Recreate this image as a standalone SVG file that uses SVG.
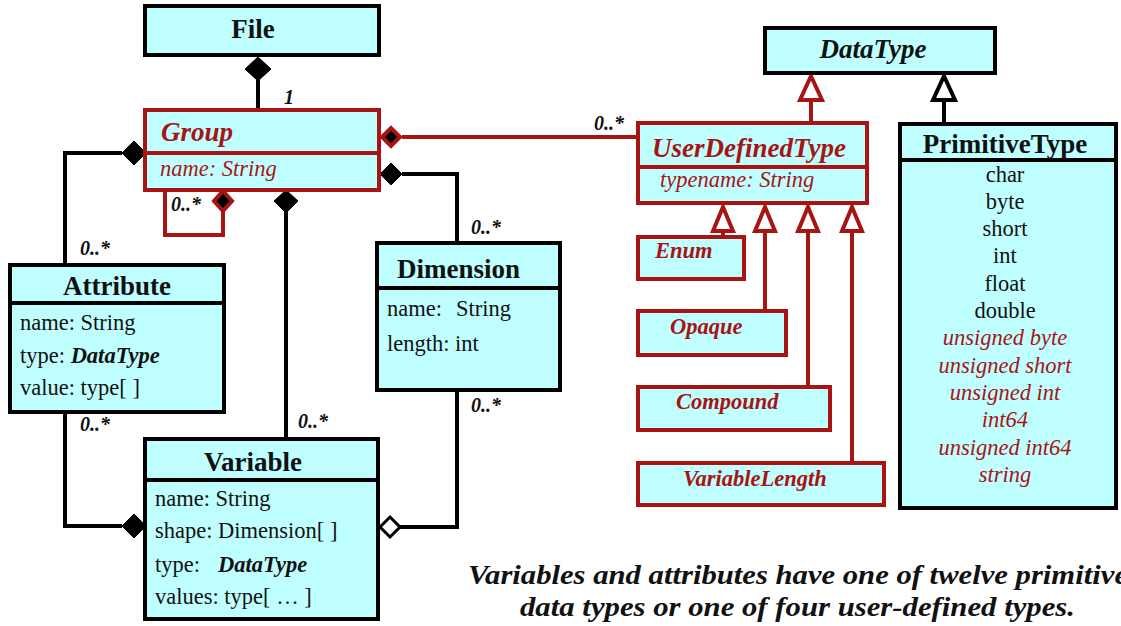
<svg xmlns="http://www.w3.org/2000/svg" width="1121" height="626" viewBox="0 0 1121 626">
<style>
.box{fill:#c0ffff;stroke:#000;stroke-width:4}
.rbox{fill:#c0ffff;stroke:#a81414;stroke-width:4}
.ln{fill:none;stroke:#000;stroke-width:4}
.rln{fill:none;stroke:#a81414;stroke-width:4}
text{font-family:"Liberation Serif","Times New Roman",Tinos,"DejaVu Serif",serif}
.t{fill:#111}
.title{font-weight:bold;font-size:27px;fill:#111}
.rtitle{font-weight:bold;font-style:italic;font-size:27px;fill:#a81414}
.rsub{font-weight:bold;font-style:italic;font-size:22.5px;fill:#a81414}
.attr{font-size:22.5px;fill:#111}
.rattr{font-style:italic;font-size:22.5px;fill:#a81414}
.bi{font-weight:bold;font-style:italic}
.mult{font-weight:bold;font-style:italic;font-size:20px;fill:#111}
.dia{fill:#000;stroke:#000;stroke-width:1}
.rdia{fill:#000;stroke:#a81414;stroke-width:4}
.odia{fill:#fff;stroke:#000;stroke-width:3}
.tri{fill:#fff;stroke:#000;stroke-width:4}
.rtri{fill:#fff;stroke:#a81414;stroke-width:4}
.cap{font-weight:bold;font-style:italic;font-size:28px;fill:#111}
</style>
<rect width="1121" height="626" fill="#fff"/>

<g id="connectors">
  <line class="ln" x1="258" y1="80" x2="258" y2="110"/>
  <polygon class="dia" points="258,57 271,69 258,81 245,69"/>
  <polyline class="rln" points="165,190 165,235 223,235 223,211"/>
  <polygon class="rdia" points="223,191 232,201 223,211 214,201"/>
  <polyline class="ln" points="122,153 65,153 65,265"/>
  <polygon class="dia" points="146,153 134,165 122,153 134,141"/>
  <line class="ln" x1="286" y1="212" x2="286" y2="439"/>
  <polygon class="dia" points="286,190 298,201 286,213 274,201"/>
  <polyline class="ln" points="402,174 457,174 457,243"/>
  <polygon class="dia" points="380,174 391,163 402,174 391,185"/>
  <line class="rln" x1="402" y1="137" x2="638" y2="137"/>
  <polygon class="rdia" points="382,137 391,128 400,137 391,146"/>
  <polyline class="ln" points="65,412 65,526 122,526"/>
  <polygon class="dia" points="146,526 134,538 122,526 134,514"/>
  <polyline class="ln" points="400,527 457,527 457,390"/>
  <polygon class="odia" points="380,527 390,517 400,527 390,537"/>
  <line class="rln" x1="811" y1="100" x2="811" y2="123"/>
  <polygon class="rtri" points="811,76 822,100 800,100"/>
  <line class="ln" x1="944" y1="100" x2="944" y2="123"/>
  <polygon class="tri" points="944,76 955,100 933,100"/>
  <line class="rln" x1="723" y1="231" x2="723" y2="236"/>
  <polygon class="rtri" points="723,207 733,231 713,231"/>
  <line class="rln" x1="765" y1="231" x2="765" y2="311"/>
  <polygon class="rtri" points="765,207 775,231 755,231"/>
  <line class="rln" x1="808" y1="231" x2="808" y2="387"/>
  <polygon class="rtri" points="808,207 818,231 798,231"/>
  <line class="rln" x1="852" y1="231" x2="852" y2="463"/>
  <polygon class="rtri" points="852,207 862,231 842,231"/>
  <text class="mult" x="284" y="104">1</text>
  <text class="mult" x="171" y="211">0..*</text>
  <text class="mult" x="80" y="255">0..*</text>
  <text class="mult" x="471" y="234">0..*</text>
  <text class="mult" x="594" y="130">0..*</text>
  <text class="mult" x="80" y="431">0..*</text>
  <text class="mult" x="298" y="428">0..*</text>
  <text class="mult" x="471" y="412">0..*</text>
</g>

<g id="File">
  <rect class="box" x="145" y="6" width="234" height="49"/>
  <text class="title" x="253" y="38" text-anchor="middle">File</text>
</g>

<g id="Group">
  <rect class="rbox" x="145" y="110" width="234" height="80"/>
  <line class="rln" x1="145" y1="153" x2="379" y2="153"/>
  <text class="rtitle" x="161" y="141">Group</text>
  <text class="rattr" x="160" y="176">name: String</text>
</g>

<g id="Attribute">
  <rect class="box" x="10" y="265" width="214" height="147"/>
  <line class="ln" x1="10" y1="303" x2="224" y2="303"/>
  <text class="title" x="117" y="295" text-anchor="middle">Attribute</text>
  <text class="attr" x="20" y="330">name: String</text>
  <text class="attr" x="20" y="363">type: <tspan class="bi">DataType</tspan></text>
  <text class="attr" x="20" y="395">value: type[ ]</text>
</g>

<g id="Dimension">
  <rect class="box" x="377" y="243" width="183" height="147"/>
  <line class="ln" x1="377" y1="288" x2="560" y2="288"/>
  <text class="title" x="397" y="278">Dimension</text>
  <text class="attr" x="387" y="316">name:<tspan x="456">String</tspan></text>
  <text class="attr" x="387" y="351">length: int</text>
</g>

<g id="Variable">
  <rect class="box" x="145" y="439" width="233" height="180"/>
  <line class="ln" x1="145" y1="480" x2="378" y2="480"/>
  <text class="title" x="253" y="471" text-anchor="middle">Variable</text>
  <text class="attr" x="155" y="506">name: String</text>
  <text class="attr" x="155" y="538">shape: Dimension[ ]</text>
  <text class="attr" x="155" y="572">type:<tspan class="bi" x="218">DataType</tspan></text>
  <text class="attr" x="155" y="604">values: type[ … ]</text>
</g>

<g id="DataType">
  <rect class="box" x="765" y="28" width="230" height="45"/>
  <text class="t bi" x="873" y="58" font-size="27" text-anchor="middle">DataType</text>
</g>

<g id="UserDefinedType">
  <rect class="rbox" x="638" y="123" width="229" height="80"/>
  <line class="rln" x1="638" y1="167" x2="867" y2="167"/>
  <text class="rtitle" x="652" y="157">UserDefinedType</text>
  <text class="rattr" x="660" y="187">typename: String</text>
</g>

<g id="PrimitiveType">
  <rect class="box" x="900" y="124" width="216" height="384"/>
  <line class="ln" x1="900" y1="160" x2="1116" y2="160"/>
  <text class="title" x="1005" y="153" text-anchor="middle">PrimitiveType</text>
  <g text-anchor="middle">
    <text class="attr" x="1005" y="182">char</text>
    <text class="attr" x="1005" y="209">byte</text>
    <text class="attr" x="1005" y="236">short</text>
    <text class="attr" x="1005" y="263">int</text>
    <text class="attr" x="1005" y="291">float</text>
    <text class="attr" x="1005" y="318">double</text>
    <text class="rattr" x="1005" y="345">unsigned byte</text>
    <text class="rattr" x="1005" y="373">unsigned short</text>
    <text class="rattr" x="1005" y="400">unsigned int</text>
    <text class="rattr" x="1005" y="427">int64</text>
    <text class="rattr" x="1005" y="455">unsigned int64</text>
    <text class="rattr" x="1005" y="482">string</text>
  </g>
</g>

<g id="Enum">
  <rect class="rbox" x="638" y="237" width="106" height="42"/>
  <text class="rsub" x="655" y="258">Enum</text>
</g>
<g id="Opaque">
  <rect class="rbox" x="638" y="311" width="148" height="44"/>
  <text class="rsub" x="670" y="334">Opaque</text>
</g>
<g id="Compound">
  <rect class="rbox" x="638" y="387" width="192" height="43"/>
  <text class="rsub" x="676" y="409">Compound</text>
</g>
<g id="VariableLength">
  <rect class="rbox" x="638" y="463" width="246" height="42"/>
  <text class="rsub" x="683" y="486">VariableLength</text>
</g>

<g id="caption">
  <text class="cap" x="468" y="584" textLength="660" lengthAdjust="spacingAndGlyphs">Variables and attributes have one of twelve primitive</text>
  <text class="cap" x="520" y="616" textLength="555" lengthAdjust="spacingAndGlyphs">data types or one of four user-defined types.</text>
</g>
</svg>
